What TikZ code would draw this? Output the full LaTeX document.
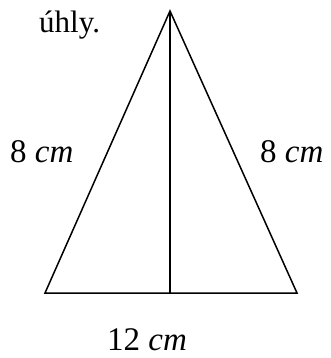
\documentclass[tikz,border=0pt]{standalone}
\usepackage{fontspec}
\setmainfont{Liberation Serif}
\usetikzlibrary{positioning, calc}

\begin{document}
\begin{tikzpicture}[
    x=1pt, y=-1pt,
    side/.style={draw=black, line width=1.5pt},
    len/.style={font=\fontsize{33}{38}\selectfont, inner sep=0pt, anchor=base west},
    txt/.style={font=\fontsize{31}{36}\selectfont, inner sep=0pt, anchor=base west},
]

\useasboundingbox (0,0) rectangle (330,358);

\def\apexX{170}
\def\baseY{293}

% corners of the triangle
\coordinate (top) at (\apexX,11);
\coordinate (bl) at (45,\baseY);
\coordinate (br) at (297,\baseY);
\coordinate (foot) at (\apexX,\baseY);

\draw[side, line join=miter] (bl) -- (top) -- (br) -- cycle;
\draw[side] (top) -- (foot);

% labels
\node[txt] (word) at (39,33) {úhly.};
\node[len] (left) at (10,162) {8 \textit{cm}};
\node[len] (right) at (260,162) {8 \textit{cm}};
\node[len] (bottom) at (107,350) {12 \textit{cm}};

\end{tikzpicture}
\end{document}
